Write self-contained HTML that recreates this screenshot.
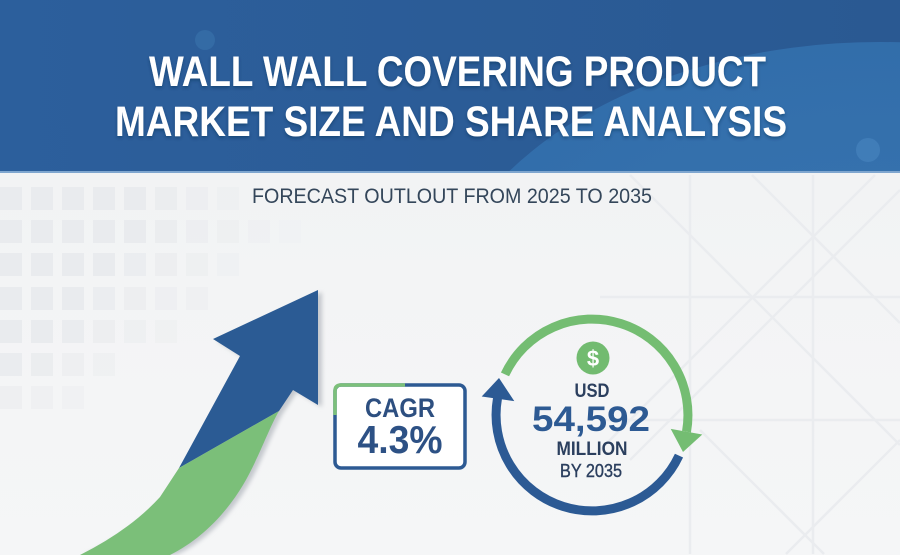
<!DOCTYPE html>
<html>
<head>
<meta charset="utf-8">
<style>
html,body{margin:0;padding:0;width:900px;height:555px;overflow:hidden;background:#f1f2f4;}
svg{display:block;position:absolute;left:0;top:0;}
text{font-family:"Liberation Sans",Arial,sans-serif;}
</style>
</head>
<body>
<svg width="900" height="555" viewBox="0 0 900 555" xmlns="http://www.w3.org/2000/svg">
  <defs>
    <linearGradient id="bg" x1="0" y1="0" x2="0" y2="1">
      <stop offset="0" stop-color="#eff1f3"/>
      <stop offset="0.5" stop-color="#f3f4f5"/>
      <stop offset="1" stop-color="#f5f6f7"/>
    </linearGradient>
    <linearGradient id="hdr" x1="0" y1="0" x2="1" y2="0">
      <stop offset="0" stop-color="#2c5f9c"/>
      <stop offset="1" stop-color="#2a5992"/>
    </linearGradient>
    <radialGradient id="glow" cx="0.5" cy="0.5" r="0.5">
      <stop offset="0" stop-color="#3a78b4"/>
      <stop offset="1" stop-color="#3370ad"/>
    </radialGradient>
    <clipPath id="hclip"><rect x="0" y="0" width="900" height="172"/></clipPath>
    <clipPath id="pclip"><rect x="0" y="0" width="900" height="555"/></clipPath>
    <filter id="blur2"><feGaussianBlur stdDeviation="2"/></filter>
    <filter id="tshadow"><feDropShadow dx="0" dy="2" stdDeviation="1.5" flood-color="#0b2a50" flood-opacity="0.45"/></filter>
  </defs>

  <g clip-path="url(#pclip)">
  <!-- background -->
  <rect x="0" y="0" width="900" height="555" fill="url(#bg)"/>

  <!-- faint tile pattern left -->
  <g fill="#e9ebee">
    <rect x="0" y="187" width="22" height="23"/><rect x="31" y="187" width="22" height="23"/><rect x="62" y="187" width="22" height="23"/><rect x="93" y="187" width="22" height="23"/><rect x="124" y="187" width="22" height="23"/><rect x="155" y="187" width="22" height="23" opacity="0.8"/><rect x="186" y="187" width="22" height="23" opacity="0.6"/><rect x="217" y="187" width="22" height="23" opacity="0.4"/>
    <rect x="0" y="220" width="22" height="23"/><rect x="31" y="220" width="22" height="23"/><rect x="62" y="220" width="22" height="23"/><rect x="93" y="220" width="22" height="23"/><rect x="124" y="220" width="22" height="23"/><rect x="155" y="220" width="22" height="23" opacity="0.8"/><rect x="186" y="220" width="22" height="23" opacity="0.6"/><rect x="217" y="220" width="22" height="23" opacity="0.45"/><rect x="248" y="220" width="22" height="23" opacity="0.3"/><rect x="279" y="220" width="22" height="23" opacity="0.2"/>
    <rect x="0" y="253" width="22" height="23"/><rect x="31" y="253" width="22" height="23"/><rect x="62" y="253" width="22" height="23"/><rect x="93" y="253" width="22" height="23"/><rect x="124" y="253" width="22" height="23" opacity="0.85"/><rect x="155" y="253" width="22" height="23" opacity="0.7"/><rect x="186" y="253" width="22" height="23" opacity="0.5"/><rect x="217" y="253" width="22" height="23" opacity="0.3"/>
    <rect x="0" y="287" width="22" height="23"/><rect x="31" y="287" width="22" height="23"/><rect x="62" y="287" width="22" height="23"/><rect x="93" y="287" width="22" height="23" opacity="0.85"/><rect x="124" y="287" width="22" height="23" opacity="0.7"/><rect x="155" y="287" width="22" height="23" opacity="0.55"/><rect x="186" y="287" width="22" height="23" opacity="0.4"/>
    <rect x="0" y="320" width="22" height="23"/><rect x="31" y="320" width="22" height="23"/><rect x="62" y="320" width="22" height="23" opacity="0.9"/><rect x="93" y="320" width="22" height="23" opacity="0.7"/><rect x="124" y="320" width="22" height="23" opacity="0.5"/><rect x="155" y="320" width="22" height="23" opacity="0.35"/>
    <rect x="0" y="353" width="22" height="23" opacity="0.9"/><rect x="31" y="353" width="22" height="23" opacity="0.8"/><rect x="62" y="353" width="22" height="23" opacity="0.6"/><rect x="93" y="353" width="22" height="23" opacity="0.4"/>
    <rect x="0" y="386" width="22" height="23" opacity="0.6"/><rect x="31" y="386" width="22" height="23" opacity="0.5"/><rect x="62" y="386" width="22" height="23" opacity="0.35"/>
  </g>

  <!-- faint diamond pattern right -->
  <g stroke="#eaecef" stroke-width="2.5" fill="none">
    <line x1="690" y1="175" x2="690" y2="554"/>
    <line x1="813" y1="175" x2="813" y2="554"/>
    <line x1="600" y1="297" x2="900" y2="297"/>
    <line x1="600" y1="420" x2="900" y2="420"/>
    <line x1="630" y1="175" x2="900" y2="445"/>
    <line x1="752" y1="175" x2="900" y2="323"/>
    <line x1="900" y1="190" x2="630" y2="460"/>
    <line x1="875" y1="175" x2="600" y2="450"/>
    <line x1="700" y1="430" x2="824" y2="554"/>
    <line x1="900" y1="440" x2="786" y2="554"/>
  </g>

  <!-- header -->
  <g clip-path="url(#hclip)">
    <rect x="0" y="0" width="900" height="172" fill="url(#hdr)"/>
    <ellipse cx="880" cy="340" rx="450" ry="298" fill="url(#glow)" opacity="0.9"/>
    <circle cx="868" cy="150" r="12" fill="#4a86bf" opacity="0.6"/>
    <circle cx="205" cy="40" r="10" fill="#3b74ae" opacity="0.6"/>
  </g>
  <rect x="0" y="171" width="900" height="2" fill="#7fa6cf"/>

  <!-- title -->
  <g fill="#ffffff" font-weight="bold" font-size="43" filter="url(#tshadow)">
    <text x="149" y="86" textLength="617" lengthAdjust="spacingAndGlyphs">WALL WALL COVERING PRODUCT</text>
    <text x="115" y="136" textLength="672" lengthAdjust="spacingAndGlyphs">MARKET SIZE AND SHARE ANALYSIS</text>
  </g>

  <!-- subtitle -->
  <text x="252" y="203" font-size="21" fill="#34465a" textLength="400" lengthAdjust="spacingAndGlyphs">FORECAST OUTLOUT FROM 2025 TO 2035</text>

  <!-- arrow shadow -->
  <g transform="translate(4,2)" fill="#c4c8cd" filter="url(#blur2)">
    <path d="M318,290 L318,405 L293,390 L279,411 C268,430 258,460 243,485 C225,515 200,540 172,553 L80,553 Q130,530 160,497 L179,468 L240,356 L213,339 Z"/>
  </g>
  <!-- arrow blue -->
  <path d="M318,290 L318,405 L293,390 L279,411 L179,468 L240,356 L213,339 Z" fill="#2b5b94"/>
  <!-- arrow green -->
  <path d="M179,468 L279,411 C268,430 258,460 243,485 C225,515 200,540 170,555 L80,555 Q130,530 160,497 Z" fill="#7bbf79"/>

  <!-- CAGR box -->
  <rect x="335" y="385" width="130" height="83" rx="6" ry="6" fill="#ffffff" stroke="#2d5a93" stroke-width="3.5"/>
  <path d="M335,415 L335,391 Q335,385 341,385 L405,385" fill="none" stroke="#7cc07a" stroke-width="3.5"/>
  <text x="400" y="417" font-size="27" font-weight="bold" fill="#2d4f80" text-anchor="middle" textLength="70" lengthAdjust="spacingAndGlyphs">CAGR</text>
  <text x="400" y="453" font-size="39" font-weight="bold" fill="#2d5185" text-anchor="middle" textLength="85" lengthAdjust="spacingAndGlyphs">4.3%</text>

  <!-- circular arrows -->
  <path d="M505,374.4 A96,96 0 0 1 686.5,431.7" fill="none" stroke="#74bd72" stroke-width="9"/>
  <polygon points="683,452 702.3,434.5 670.7,428.9" fill="#74bd72"/>
  <path d="M679,455.6 A96,96 0 0 1 497.5,398.3" fill="none" stroke="#2c5a94" stroke-width="9"/>
  <polygon points="499,378 481.7,396.5 514.3,401.1" fill="#2c5a94"/>

  <!-- dollar -->
  <circle cx="593" cy="358" r="16.5" fill="#72bb70"/>
  <text x="593" y="366" font-size="22" font-weight="bold" fill="#ffffff" text-anchor="middle">$</text>

  <!-- value texts -->
  <text x="592" y="397" font-size="19.5" font-weight="bold" fill="#2b3f5e" text-anchor="middle" textLength="35" lengthAdjust="spacingAndGlyphs">USD</text>
  <text x="591" y="431" font-size="35" font-weight="bold" fill="#2d5a93" text-anchor="middle" textLength="118" lengthAdjust="spacingAndGlyphs">54,592</text>
  <text x="592" y="455" font-size="19" font-weight="bold" fill="#2b3f5e" text-anchor="middle" textLength="71" lengthAdjust="spacingAndGlyphs">MILLION</text>
  <text x="591" y="477" font-size="18.5" fill="#2b3f5e" stroke="#2b3f5e" stroke-width="0.4" text-anchor="middle" textLength="62" lengthAdjust="spacingAndGlyphs">BY 2035</text>
  </g>
</svg>
</body>
</html>
